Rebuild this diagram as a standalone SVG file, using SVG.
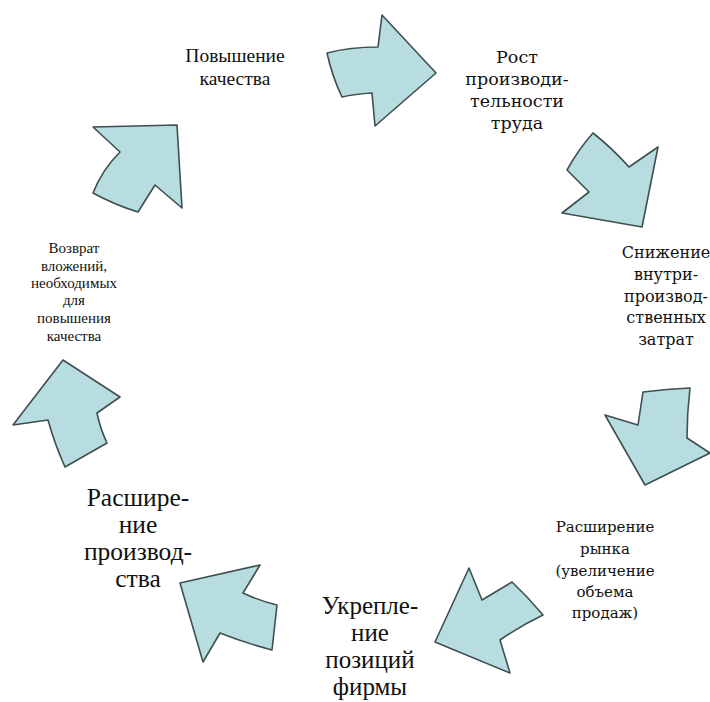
<svg xmlns="http://www.w3.org/2000/svg" width="710" height="702" viewBox="0 0 710 702">
<style>
.arr{fill:#b7dde0;stroke:#3f4f50;stroke-width:1.6;stroke-linejoin:round}
.t{font-family:"Liberation Serif","Times New Roman","Tinos","Noto Serif","DejaVu Serif",serif;fill:#111;text-anchor:middle}
.c{font-family:"DejaVu Serif","Noto Serif","Liberation Serif",serif;fill:#111;text-anchor:middle}
</style>
<rect width="710" height="702" fill="#ffffff"/>
<g id="connectors">
<path class="arr" d="M327,53 Q350,47 378,47 L382,15 L436,73 L375,126 L372,93 Q355,94 342,97 Q332,76 327,53 Z"/>
<path class="arr" d="M593,133 Q612,148 629,167 L658,147 L642,227 L562,213 L589,192 L567,170 Q578,150 593,133 Z"/>
<path class="arr" d="M643,392 Q667,389 690,388 Q687,413 687,438 L710,453 L645,485 L605,415 L638,425 Z"/>
<path class="arr" d="M469,568 L482,600 L512,582 Q528,597 543,615 Q520,626 500,640 L510,673 L435,642 Z"/>
<path class="arr" d="M260,565 L243,593 Q260,601 277,605 L272,650 Q245,643 220,633 L203,662 L180,583 Z"/>
<path class="arr" d="M63,360 L120,397 L97,413 Q100,428 107,443 L65,467 Q55,445 48,420 L13,425 Z"/>
<path class="arr" d="M93,127 L177,125 L182,208 L155,185 L138,212 Q115,205 93,193 Q102,170 120,152 Z"/>
</g>
<g id="n1" class="t" font-size="19.5"><text x="235" y="62">Повышение</text><text x="235" y="85">качества</text></g>
<g id="n2" class="c" font-size="17.5"><text x="517" y="63">Рост</text><text x="517" y="85">производи-</text><text x="517" y="107">тельности</text><text x="517" y="129">труда</text></g>
<g id="n3" class="c" font-size="16"><text x="666" y="258">Снижение</text><text x="666" y="280">внутри-</text><text x="666" y="302">производ-</text><text x="666" y="323">ственных</text><text x="666" y="345">затрат</text></g>
<g id="n4" class="c" font-size="15"><text x="605" y="532">Расширение</text><text x="605" y="554">рынка</text><text x="605" y="576">(увеличение</text><text x="605" y="597">объема</text><text x="605" y="618">продаж)</text></g>
<g id="n5" class="t" font-size="25"><text x="370" y="614">Укрепле-</text><text x="370" y="641">ние</text><text x="370" y="668">позиций</text><text x="370" y="695">фирмы</text></g>
<g id="n6" class="t" font-size="25.5"><text x="138" y="506">Расшире-</text><text x="138" y="533">ние</text><text x="138" y="560">производ-</text><text x="138" y="587">ства</text></g>
<g id="n7" class="t" font-size="15"><text x="74" y="253">Возврат</text><text x="74" y="271">вложений,</text><text x="74" y="288">необходимых</text><text x="74" y="305">для</text><text x="74" y="323">повышения</text><text x="74" y="341">качества</text></g>
</svg>
